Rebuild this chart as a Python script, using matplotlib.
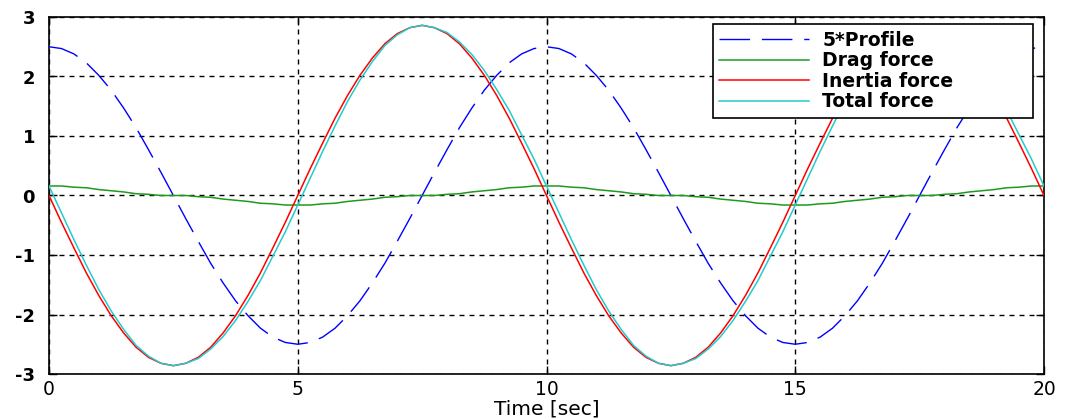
import numpy as np
import matplotlib
matplotlib.use("Agg")
import matplotlib.pyplot as plt

time_step = 0.25
profile5 = [2.50, 2.47, 2.38, 2.23, 2.02, 1.77, 1.47, 1.14, 0.77, 0.39, 0.00,
            -0.39, -0.77, -1.14, -1.47, -1.77, -2.02, -2.23, -2.38, -2.47, -2.50,
            -2.47, -2.38, -2.23, -2.02, -1.77, -1.47, -1.14, -0.77, -0.39, 0.00,
            0.39, 0.77, 1.14, 1.47, 1.77, 2.02, 2.23, 2.38, 2.47, 2.50,
            2.47, 2.38, 2.23, 2.02, 1.77, 1.47, 1.14, 0.77, 0.39, 0.00,
            -0.39, -0.77, -1.14, -1.47, -1.77, -2.02, -2.23, -2.38, -2.47, -2.50,
            -2.47, -2.38, -2.23, -2.02, -1.77, -1.47, -1.14, -0.77, -0.39, 0.00,
            0.39, 0.77, 1.14, 1.47, 1.77, 2.02, 2.23, 2.38, 2.47, 2.50]
drag = [0.16, 0.16, 0.14, 0.13, 0.10, 0.08, 0.06, 0.03, 0.02, 0.00, 0.00,
        0.00, -0.02, -0.03, -0.06, -0.08, -0.10, -0.13, -0.14, -0.16, -0.16,
        -0.16, -0.14, -0.13, -0.10, -0.08, -0.06, -0.03, -0.02, 0.00, 0.00,
        0.00, 0.02, 0.03, 0.06, 0.08, 0.10, 0.13, 0.14, 0.16, 0.16,
        0.16, 0.14, 0.13, 0.10, 0.08, 0.06, 0.03, 0.02, 0.00, 0.00,
        0.00, -0.02, -0.03, -0.06, -0.08, -0.10, -0.13, -0.14, -0.16, -0.16,
        -0.16, -0.14, -0.13, -0.10, -0.08, -0.06, -0.03, -0.02, 0.00, 0.00,
        0.00, 0.02, 0.03, 0.06, 0.08, 0.10, 0.13, 0.14, 0.16, 0.16]
inertia = [0.00, -0.45, -0.88, -1.30, -1.68, -2.02, -2.31, -2.55, -2.72, -2.82, -2.86,
           -2.82, -2.72, -2.55, -2.31, -2.02, -1.68, -1.30, -0.88, -0.45, 0.00,
           0.45, 0.88, 1.30, 1.68, 2.02, 2.31, 2.55, 2.72, 2.82, 2.86,
           2.82, 2.72, 2.55, 2.31, 2.02, 1.68, 1.30, 0.88, 0.45, 0.00,
           -0.45, -0.88, -1.30, -1.68, -2.02, -2.31, -2.55, -2.72, -2.82, -2.86,
           -2.82, -2.72, -2.55, -2.31, -2.02, -1.68, -1.30, -0.88, -0.45, 0.00,
           0.45, 0.88, 1.30, 1.68, 2.02, 2.31, 2.55, 2.72, 2.82, 2.86,
           2.82, 2.72, 2.55, 2.31, 2.02, 1.68, 1.30, 0.88, 0.45, 0.00]
total = [0.16, -0.29, -0.74, -1.17, -1.58, -1.94, -2.25, -2.52, -2.70, -2.82, -2.86,
         -2.82, -2.74, -2.58, -2.37, -2.10, -1.78, -1.43, -1.02, -0.61, -0.16,
         0.29, 0.74, 1.17, 1.58, 1.94, 2.25, 2.52, 2.70, 2.82, 2.86,
         2.82, 2.74, 2.58, 2.37, 2.10, 1.78, 1.43, 1.02, 0.61, 0.16,
         -0.29, -0.74, -1.17, -1.58, -1.94, -2.25, -2.52, -2.70, -2.82, -2.86,
         -2.82, -2.74, -2.58, -2.37, -2.10, -1.78, -1.43, -1.02, -0.61, -0.16,
         0.29, 0.74, 1.17, 1.58, 1.94, 2.25, 2.52, 2.70, 2.82, 2.86,
         2.82, 2.74, 2.58, 2.37, 2.10, 1.78, 1.43, 1.02, 0.61, 0.16]
time = np.arange(len(total)) * time_step

labels = ["5*Profile", "Drag force", "Inertia force", "Total force"]
xticks = [0, 5, 10, 15, 20]
yticks = [-3, -2, -1, 0, 1, 2, 3]
xlabel = "Time [sec]"

# ---- figure ----
plt.rcParams['font.family'] = ['DejaVu Sans']
plt.rcParams['axes.unicode_minus'] = False
fig = plt.figure(figsize=(10.65, 4.19), dpi=100)
ax = fig.add_axes([49/1065, 1 - 374/419, 995/1065, 357/419])

ax.plot(time, profile5, color='#0000FF', lw=1.0, dashes=(22, 8.5), label=labels[0], zorder=3)
ax.plot(time, drag, color='#1E9A1E', lw=1.1, label=labels[1], zorder=3)
ax.plot(time, inertia, color='#FF0000', lw=1.1, label=labels[2], zorder=3)
ax.plot(time, total, color='#22CCCC', lw=1.1, label=labels[3], zorder=4)

ax.set_xlim(0, 20)
ax.set_ylim(-3, 3)
ax.set_xticks(xticks)
ax.set_yticks(yticks)
ax.grid(True, color='black', lw=1.0, linestyle=(0, (3.6, 3.6)))
ax.set_axisbelow(True)

for s in ax.spines.values():
    s.set_linewidth(1.2)
    s.set_color('black')

ax.tick_params(direction='in', length=6, width=1.0, top=True, right=True)
ax.tick_params(axis='x', labelsize=13.5, pad=4)
ax.tick_params(axis='y', labelsize=13, pad=10)
for lab in ax.get_yticklabels():
    lab.set_fontweight('bold')
ax.set_xlabel(xlabel, fontsize=14.5, labelpad=1)

leg = ax.legend(loc='upper left', bbox_to_anchor=(0.667, 0.731, 0.322, 0.249),
                mode='expand', borderaxespad=0, fontsize=13.5, handlelength=4.8,
                handletextpad=0.7, labelspacing=0.08, borderpad=0.35,
                fancybox=False, framealpha=1, edgecolor='black')
leg.get_frame().set_linewidth(1.2)
for txt in leg.get_texts():
    txt.set_fontweight('bold')

fig.savefig("out.png", dpi=100, facecolor='white')
